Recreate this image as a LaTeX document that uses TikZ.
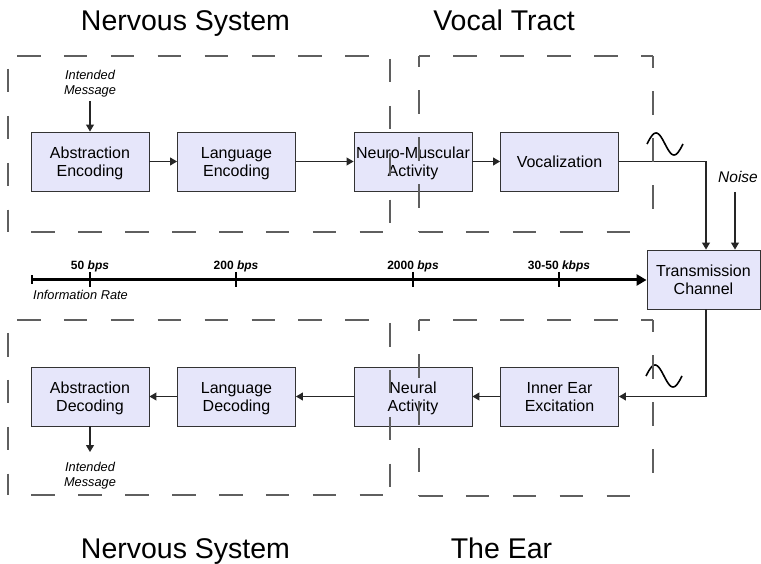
\documentclass[tikz,border=0pt]{standalone}
\usepackage{fontspec}
\setmainfont{Liberation Sans}
\usetikzlibrary{arrows.meta}
\definecolor{boxfill}{RGB}{230,230,250}
\definecolor{framegray}{RGB}{95,95,95}

\begin{document}
\begin{tikzpicture}[x=1pt,y=-1pt,
  block/.style={draw=black!80, line width=0.9pt, fill=boxfill,
    minimum width=118pt, minimum height=59pt, inner sep=0pt, align=center,
    text depth=0pt, font=\fontsize{16}{18}\selectfont},
  flow/.style={draw=black!85, line width=1.1pt, -{Triangle[length=7pt,width=8pt]}},
  frame/.style={draw=framegray, line width=1.3pt, dash pattern=on 23.5pt off 23.4pt},
  title/.style={font=\fontsize{28.5}{32}\selectfont, anchor=base},
  note/.style={font=\fontsize{12.8}{15}\selectfont\itshape, align=center},
  rate/.style={font=\fontsize{12}{14}\selectfont\bfseries, anchor=base},
  wave/.style={line width=1.6pt, black, smooth, samples=40, domain=0:36},
]
\useasboundingbox (0,0) rectangle (761,564);

% section titles
\node[title] (t1) at (185.5,30.7) {Nervous System};
\node[title] (t2) at (504,30.7) {Vocal Tract};
\node[title] (t3) at (185.5,558) {Nervous System};
\node[title] (t4) at (501.5,558) {The Ear};

% speech production chain
\node[block] (ae) at (90,161.5) {Abstraction\\Encoding};
\node[block] (le) at (236.5,161.5) {Language\\Encoding};
\node[block] (nm) at (413,161.5) {Neuro-Muscular\\Activity};
\node[block] (vo) at (559.5,161.5) {Vocalization};

% channel
\node[block, minimum width=113pt] (tc) at (703.5,279.5) {Transmission\\Channel};

% speech perception chain
\node[block] (ad) at (90,396.5) {Abstraction\\Decoding};
\node[block] (ld) at (236.5,396.5) {Language\\Decoding};
\node[block] (na) at (413,396.5) {Neural\\Activity};
\node[block] (ie) at (559.5,396.5) {Inner Ear\\Excitation};

% side notes
\node[note] (imin) at (90,83.5) {Intended\\Message};
\node[note] (imout) at (90,475.5) {Intended\\Message};
\node[font=\fontsize{15.5}{18}\selectfont\itshape] (noise) at (738,177) {Noise};
\coordinate (imtail) at (90,101);
\coordinate (imhead) at (90,452);
\coordinate (noisetail) at (735,192);

% connectors
\draw[flow] (imtail) -- (ae.north);
\draw[flow] (ae.east) -- (le.west);
\draw[flow] (le.east) -- (nm.west);
\draw[flow] (nm.east) -- (vo.west);
\draw[flow] (vo.east) -| ([xshift=2.5pt]tc.north);
\draw[flow] (noisetail) -- ([xshift=31.5pt]tc.north);
\draw[flow] ([xshift=2.5pt]tc.south) |- (ie.east);
\draw[flow] (ie.west) -- (na.east);
\draw[flow] (na.west) -- (ld.east);
\draw[flow] (ld.west) -- (ad.east);
\draw[flow] (ad.south) -- (imhead);

% acoustic waves
\draw[wave] plot ({647+\x},{144-11*sin(10*\x)});
\draw[wave] plot ({646+\x},{376-11*sin(10*\x)});

% information rate axis
\coordinate (rs) at (33,280);
\draw[line width=3pt, -{Triangle[length=10pt,width=11pt]}] (rs) -- (rs -| tc.west);
\draw[line width=2pt] (32,275.5) -- (32,284.5);
\foreach \tx/\lab in {90/{50 \textit{bps}}, 236/{200 \textit{bps}}, 413/{2000 \textit{bps}}, 559/{30-50 \textit{kbps}}}{
  \draw[line width=2pt] (\tx,272) -- (\tx,287.5);
  \node[rate] at (\tx,270) {\lab};
}
\node[font=\fontsize{12.8}{15}\selectfont\itshape, anchor=base west, inner sep=0pt] (irate) at (33,300) {Information Rate};

% dashed regions: nervous system (top)
\draw[frame, dash phase=37.9pt] (8,56) -- (390,56);
\draw[frame, dash phase=33.9pt] (8,56) -- (8,232);
\draw[frame, dash phase=43.9pt] (390,56) -- (390,232);
\draw[frame, dash phase=23.5pt] (8,232) -- (390,232);
% vocal tract
\draw[frame, dash phase=12.5pt] (419,56) -- (653,56);
\draw[frame, dash phase=12.5pt] (419,56) -- (419,232);
\draw[frame, dash phase=11.5pt] (653,56) -- (653,232);
\draw[frame, dash phase=0pt] (419,232) -- (653,232);
% nervous system (bottom)
\draw[frame, dash phase=37.9pt] (8,320) -- (390,320);
\draw[frame, dash phase=33.9pt] (8,320) -- (8,495);
\draw[frame, dash phase=43.9pt] (390,320) -- (390,495);
\draw[frame, dash phase=23.5pt] (8,495) -- (390,495);
% the ear
\draw[frame, dash phase=12.5pt] (419,320) -- (653,320);
\draw[frame, dash phase=12.5pt] (419,320) -- (419,496);
\draw[frame, dash phase=11.5pt] (653,320) -- (653,496);
\draw[frame, dash phase=0pt] (419,496) -- (653,496);
\end{tikzpicture}
\end{document}
